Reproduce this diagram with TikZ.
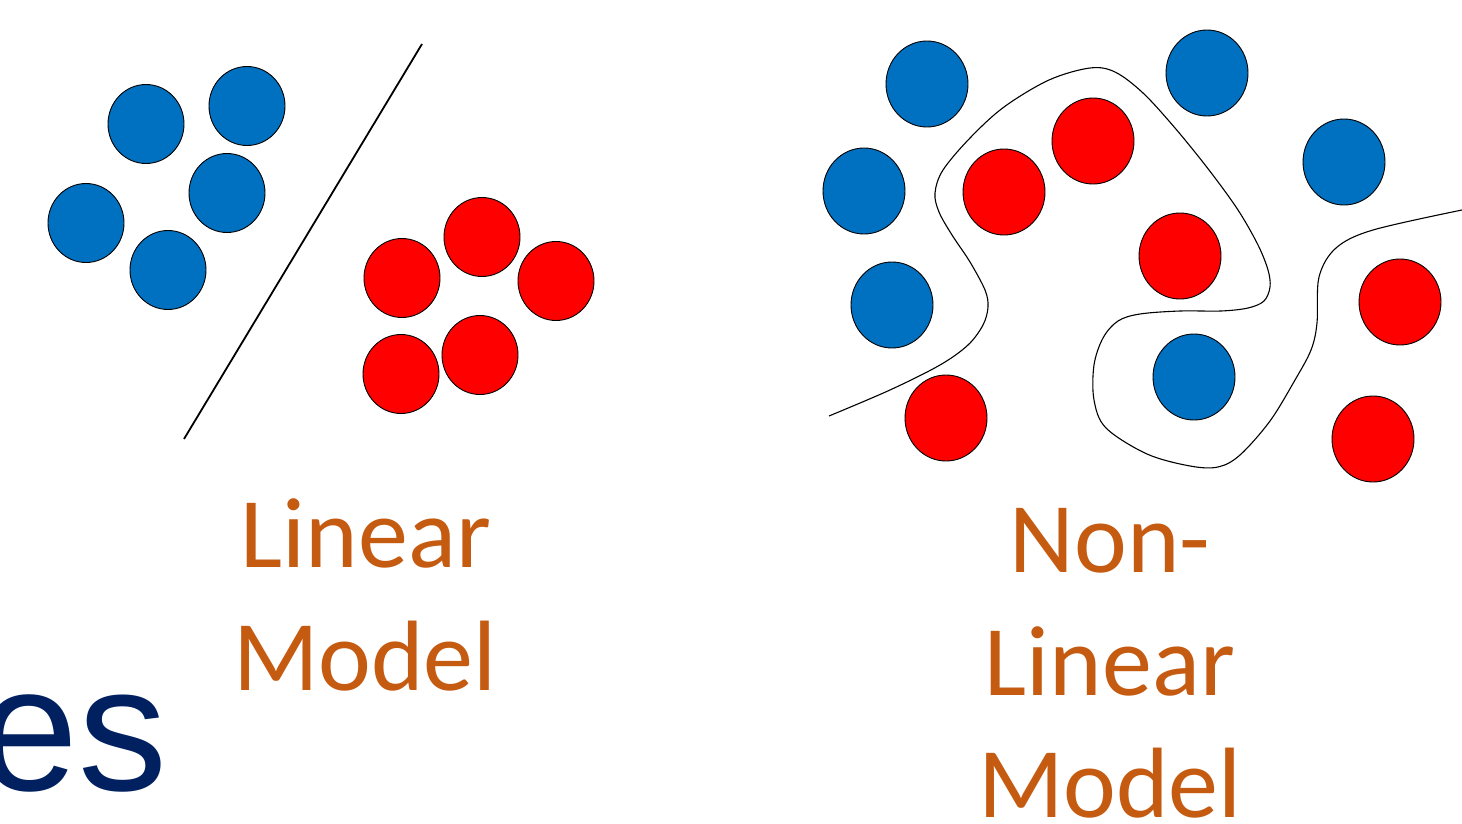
\documentclass[tikz,border=0pt]{standalone}
\usepackage{fontspec}
\setmainfont{Carlito}
\newfontfamily\esfont{Liberation Sans}
\definecolor{dotblue}{HTML}{0070C0}
\definecolor{dotred}{HTML}{FF0000}
\definecolor{labelorange}{HTML}{C55A11}
\definecolor{titlenavy}{HTML}{002060}
\tikzset{
  bluedot/.style={draw=black, line width=0.9pt, fill=dotblue},
  reddot/.style={draw=black, line width=0.9pt, fill=dotred},
  lbl/.style={text=labelorange, inner sep=0pt, anchor=base, font=\fontsize{100}{120}\selectfont},
}
\begin{document}
\begin{tikzpicture}[x=1pt,y=-1pt]
\useasboundingbox[fill=white] (0,0) rectangle (1462,824);
% Linear model: circles
\foreach \x/\y in {146/124, 247/106, 227/193, 86/223, 168/270}
  \draw[bluedot] (\x,\y) ellipse [x radius=38, y radius=39.5];
\foreach \x/\y in {482/237, 402/278, 556/281, 480/355, 401/374}
  \draw[reddot] (\x,\y) ellipse [x radius=38, y radius=39.5];
\coordinate (lt) at (422,44);
\coordinate (lb) at (184,439);
\draw[line width=1.8pt] (lt) -- (lb);
% Non-linear model: circles
\foreach \x/\y in {927/84, 1207/73, 1344/162, 864/191, 892/305, 1194/377}
  \draw[bluedot] (\x,\y) ellipse [x radius=41, y radius=43];
\foreach \x/\y in {1004/192, 1093/141, 1180/256, 1400/302, 946/418, 1373/439}
  \draw[reddot] (\x,\y) ellipse [x radius=41, y radius=43];
% decision boundary
\draw[line width=1.1pt] plot[smooth, tension=0.55] coordinates {
 (829,416) (890,390) (940,365) (968,345) (983,325) (988,307) (985,290)
 (970,262) (952,235) (939,212) (935,193) (943,170) (970,138) (1004,107)
 (1049,80) (1090,68) (1115,72) (1143,93) (1175,128) (1209,170) (1238,210)
 (1258,245) (1268,270) (1270,287) (1264,301) (1248,308) (1221,311) (1180,311)
 (1140,314) (1118,321) (1103,338) (1094,365) (1094,400) (1106,428)
 (1147,454) (1190,466) (1218,467) (1240,455) (1270,421) (1295,380) (1311,350)
 (1317,323) (1319,277) (1336,248) (1373,230) (1462,210)};
% labels
\node[lbl] (lin1) at (366,567) {Linear};
\node[lbl] (lin2) at (365,690) {Model};
\node[lbl] (non1) at (1110,572) {Non-};
\node[lbl] (non2) at (1110,695) {Linear};
\node[lbl] (non3) at (1110,817) {Model};
\node[text=titlenavy, inner sep=0pt, anchor=base east, font=\esfont\fontsize{178}{200}\selectfont] (es) at (168,790) {es};
\end{tikzpicture}
\end{document}
